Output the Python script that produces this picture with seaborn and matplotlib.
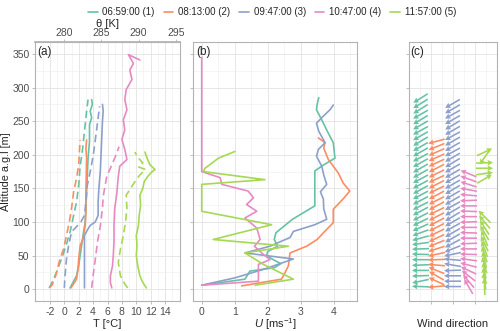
import matplotlib
matplotlib.use("Agg")
import matplotlib.pyplot as plt
import numpy as np
import pandas as pd
import seaborn as sns
from matplotlib.lines import Line2D
from matplotlib.ticker import MultipleLocator, FixedLocator

# Launch times (legend) and Set2 colours
times = ["06:59:00 (1)", "08:13:00 (2)", "09:47:00 (3)", "10:47:00 (4)", "11:57:00 (5)"]
colors = sns.color_palette("Set2", 5)

# (a) temperature profiles: solid = T, dashed = theta (shifted onto the T scale)
t1_alt = [2, 10, 20, 35, 50, 65, 80, 100, 120, 145, 170, 195, 220, 245, 255, 265, 275, 282]
t1_val = [0.8, 1.2, 1.7, 2.0, 2.2, 2.4, 2.6, 2.9, 3.0, 3.1, 3.2, 3.3, 3.5, 3.5, 3.8, 3.6, 3.9, 3.8]
th1_alt = [2, 10, 25, 45, 60, 85, 105, 130, 155, 183, 205, 225, 245, 265, 282]
th1_val = [-2.1, -1.7, -1.1, -0.4, 0.1, 0.8, 1.2, 1.7, 2.0, 2.2, 2.5, 2.7, 2.9, 3.1, 3.3]

t2_alt = [2, 8, 15, 30, 45, 55, 65, 75, 95, 120, 145, 170, 195, 210, 222]
t2_val = [0.9, 1.3, 1.7, 1.9, 2.0, 2.1, 2.2, 2.6, 2.9, 3.0, 3.0, 3.05, 3.1, 3.0, 3.1]
th2_alt = [2, 6, 20, 45, 60, 80, 100, 120, 145, 165, 185, 205, 222]
th2_val = [-2.1, -1.7, -1.2, -0.6, -0.1, 0.3, 0.7, 1.0, 1.3, 1.7, 2.0, 2.1, 2.2]

t3_alt = [2, 30, 60, 80, 88, 95, 100, 110, 130, 150, 175, 200, 225, 250, 265, 275]
t3_val = [2.8, 2.8, 2.8, 2.8, 3.2, 3.6, 4.3, 4.7, 4.7, 4.8, 5.0, 5.1, 5.2, 5.3, 5.4, 5.3]
th3_alt = [2, 20, 45, 65, 85, 92, 100, 110, 130, 155, 180, 205, 230, 255, 272]
th3_val = [0.0, 0.1, 0.3, 0.6, 1.0, 1.6, 2.3, 2.8, 3.0, 3.2, 3.7, 4.1, 4.4, 4.7, 4.9]

t4_alt = [2, 10, 20, 35, 50, 70, 95, 120, 143, 168, 183, 193, 208, 223, 237, 252, 267,
          282, 297, 312, 326, 336, 349, 341]
t4_val = [6.6, 6.4, 6.4, 6.7, 6.8, 6.9, 6.9, 7.0, 7.3, 7.5, 7.7, 8.7, 8.4, 8.0, 8.4, 8.2, 8.7,
          8.4, 8.6, 9.4, 9.1, 9.6, 8.9, 10.5]
th4_alt = [2, 20, 44, 70, 94, 120, 138, 150, 168, 180, 190, 200, 212]
th4_val = [3.8, 4.0, 4.3, 4.6, 5.0, 5.3, 5.4, 5.6, 5.9, 6.4, 6.8, 7.2, 7.6]

t5_alt = [2, 10, 20, 35, 50, 65, 80, 95, 110, 125, 140, 150, 160, 168, 175, 178, 185, 195, 204]
t5_val = [11.4, 10.9, 10.5, 10.2, 10.0, 10.1, 10.0, 10.3, 10.4, 10.6, 10.5, 10.9, 11.1, 11.6,
          12.2, 12.6, 11.9, 11.5, 11.2]
th5_alt = [2, 8, 20, 40, 60, 80, 100, 120, 140, 148, 155, 163, 170, 178, 182, 188, 195, 204]
th5_val = [8.8, 8.4, 7.8, 7.5, 7.8, 8.2, 8.5, 8.7, 8.6, 9.1, 9.5, 10.0, 10.5, 11.3, 10.3, 10.9,
           10.3, 9.8]

# (b) wind speed profiles
u1_alt = [6, 15, 22, 27, 32, 38, 44, 50, 56, 64, 74, 84, 94, 104, 124, 150, 176, 185, 195,
          218, 232, 252, 267, 275, 285]
u1_val = [0, 1.31, 1.4, 1.46, 2.2, 2.4, 2.17, 1.97, 2.0, 2.3, 2.2, 2.25, 2.5, 2.75, 3.43,
          3.43, 3.43, 3.7, 4.04, 3.99, 3.84, 3.64, 3.48, 3.5, 3.55]
u2_alt = [5, 15, 25, 35, 44, 54, 64, 74, 84, 99, 119, 135, 146, 158, 173, 193, 210, 218, 225]
u2_val = [1.21, 2.42, 2.53, 2.63, 2.65, 2.68, 3.18, 3.5, 3.69, 3.99, 3.99, 4.3, 4.49, 4.29,
          4.14, 3.84, 3.7, 3.74, 3.54]
u3_alt = [6, 17, 30, 45, 54, 64, 77, 86, 96, 104, 120, 134, 145, 156, 170, 183, 198, 208,
          218, 235, 247, 258, 267, 274]
u3_val = [0, 1.01, 1.9, 2.78, 1.31, 2.07, 2.68, 2.78, 3.43, 3.79, 3.7, 3.69, 3.6, 3.79, 3.7,
          3.64, 3.48, 3.54, 3.74, 3.55, 3.48, 3.7, 3.89, 3.99]
u4_alt = [6, 12, 20, 30, 37, 44, 54, 64, 74, 91, 106, 116, 126, 136, 146, 156, 166, 175, 345]
u4_val = [0, 1.72, 1.72, 1.72, 1.72, 2.07, 1.82, 1.6, 1.77, 1.67, 1.31, 1.67, 1.36, 1.57,
          1.41, 0.61, 0.56, 0, 0]
u5_alt = [6, 15, 37, 54, 64, 74, 96, 116, 156, 163, 175, 180, 195, 205]
u5_val = [1.62, 2.78, 1.87, 1.31, 2.63, 0.35, 2.12, 0, 0, 1.92, 0.05, 0.1, 0.51, 1.01]

# (c) wind direction (deg, meteorological "from"), 8 m levels
d1_alt = [4, 12, 20, 28, 36, 44, 52, 60, 68, 76, 84, 92, 100, 108, 116, 124, 132, 140, 148,
          156, 164, 172, 180, 188, 196, 204, 212, 220, 228, 236, 244, 252, 260, 268, 276, 284]
d1_val = [92, 78, 88, 90, 88, 90, 92, 88, 82, 75, 70, 66, 64, 63, 62, 63, 62, 62, 61, 62,
          62, 61, 60, 61, 62, 60, 60, 59, 60, 61, 60, 59, 60, 58, 58, 58]
d2_alt = [4, 12, 20, 28, 36, 44, 52, 60, 68, 76, 84, 92, 100, 108, 116, 124, 132, 140, 148,
          156, 164, 172, 180, 188, 196, 204, 212, 220]
d2_val = [85, 115, 120, 112, 95, 88, 78, 72, 68, 65, 64, 63, 62, 63, 64, 62, 63, 62, 64, 63,
          65, 64, 63, 65, 66, 66, 68, 75]
d3_alt = [4, 12, 20, 28, 36, 44, 52, 60, 68, 76, 84, 92, 100, 108, 116, 124, 132, 140, 148,
          156, 164, 172, 180, 188, 196, 204, 212, 220, 228, 236, 244, 252, 260, 268, 276]
d3_val = [90, 90, 90, 88, 100, 95, 78, 68, 62, 60, 60, 61, 60, 59, 60, 61, 60, 60, 59, 60,
          61, 60, 60, 59, 60, 61, 60, 60, 61, 60, 59, 60, 61, 60, 60]
d4_alt = [4, 12, 20, 28, 36, 44, 52, 60, 68, 76, 84, 92, 100, 108, 116, 124, 132, 140, 148,
          156, 164, 172]
d4_val = [150, 140, 128, 115, 105, 98, 92, 90, 88, 90, 92, 90, 88, 90, 92, 90, 88, 95, 100,
          108, 110, 112]
d5_alt = [4, 12, 20, 28, 36, 44, 52, 60, 68, 76, 84, 92, 100, 108, 164, 172, 180, 188, 196, 204]
d5_val = [178, 172, 170, 172, 165, 168, 162, 160, 155, 158, 150, 148, 140, 135, 240, 262,
          270, 268, 35, 245]

temp_series = [(t1_alt, t1_val, th1_alt, th1_val), (t2_alt, t2_val, th2_alt, th2_val),
               (t3_alt, t3_val, th3_alt, th3_val), (t4_alt, t4_val, th4_alt, th4_val),
               (t5_alt, t5_val, th5_alt, th5_val)]
wind_series = [(u1_alt, u1_val), (u2_alt, u2_val), (u3_alt, u3_val), (u4_alt, u4_val),
               (u5_alt, u5_val)]
dir_series = [(d1_alt, d1_val), (d2_alt, d2_val), (d3_alt, d3_val), (d4_alt, d4_val),
              (d5_alt, d5_val)]

rows = []
for name, (ta, tv, ha, hv) in zip(times, temp_series):
    rows += [dict(profile=name, var="T", alt=a, value=v) for a, v in zip(ta, tv)]
    rows += [dict(profile=name, var="theta", alt=a, value=v) for a, v in zip(ha, hv)]
df_a = pd.DataFrame(rows)

rows = []
for name, (ua, uv) in zip(times, wind_series):
    rows += [dict(profile=name, alt=a, U=v) for a, v in zip(ua, uv)]
df_b = pd.DataFrame(rows)

# theme (ggplot theme_light look)
sns.set_theme(style="whitegrid")
plt.rcParams["font.family"] = ["Liberation Sans", "DejaVu Sans"]
plt.rcParams["mathtext.fontset"] = "custom"
plt.rcParams["mathtext.rm"] = "Liberation Sans"
plt.rcParams["mathtext.it"] = "Liberation Sans:italic"
plt.rcParams["axes.unicode_minus"] = False

grey_txt = "#4D4D4D"
grey_line = "#B3B3B3"

fig = plt.figure(figsize=(5, 3.31), dpi=100)
ax_a = fig.add_axes([0.070, 0.0906, 0.290, 0.782])
ax_b = fig.add_axes([0.3866, 0.0906, 0.3268, 0.782])
ax_c = fig.add_axes([0.8186, 0.0906, 0.1748, 0.782])

sns.lineplot(data=df_a, x="value", y="alt", hue="profile", style="var", hue_order=times,
             palette=colors, dashes={"T": "", "theta": (4.5, 2.5)}, sort=False,
             estimator=None, linewidth=1.2, legend=False, ax=ax_a)
sns.lineplot(data=df_b, x="U", y="alt", hue="profile", hue_order=times, palette=colors,
             sort=False, estimator=None, linewidth=1.2, legend=False, ax=ax_b)

# wind direction arrows, one column per launch
for i, (color, (da, dv)) in enumerate(zip(colors, dir_series)):
    ang = np.deg2rad(270 - np.array(dv, dtype=float))
    ax_c.quiver(np.full(len(da), i + 1.0), da, np.cos(ang), np.sin(ang), color=color,
                angles="uv", pivot="middle", scale_units="dots", scale=1 / 17,
                units="dots", width=1.6, headwidth=3.6, headlength=3.4,
                headaxislength=3.0)

for ax in (ax_a, ax_b, ax_c):
    ax.set_ylim(-17.5, 367.5)
    ax.yaxis.set_major_locator(MultipleLocator(50))
    ax.yaxis.set_minor_locator(MultipleLocator(25))
    ax.grid(True, which="major", color="#E3E3E3", linewidth=0.6)
    ax.grid(True, which="minor", color="#EEEEEE", linewidth=0.4)
    ax.set_axisbelow(True)
    for s in ax.spines.values():
        s.set_color(grey_line)
        s.set_linewidth(0.8)
    ax.tick_params(which="major", length=2.5, width=0.6, color=grey_line, labelsize=7.5,
                   labelcolor=grey_txt, pad=1.5, bottom=True, left=True)
    ax.tick_params(which="minor", length=0)
    ax.set_ylabel("")
    ax.xaxis.label.set_va("center")

ax_a.set_xlim(-4.07, 16.07)
ax_a.xaxis.set_major_locator(FixedLocator([-2, 0, 2, 4, 6, 8, 10, 12, 14]))
ax_a.xaxis.set_minor_locator(FixedLocator([-3, -1, 1, 3, 5, 7, 9, 11, 13, 15]))
ax_a.set_xlabel("T [°C]", fontsize=8)
ax_a.set_ylabel("Altitude a.g.l [m]", fontsize=7.8)
ax_a.yaxis.set_label_coords(-0.2, 0.5)
ax_a.yaxis.label.set_va("center")

sec = ax_a.secondary_xaxis("top", functions=(lambda t: 280 + 0.968 * t,
                                             lambda th: (th - 280) / 0.968))
sec.set_xticks([280, 285, 290, 295])
sec.tick_params(length=2.5, width=0.6, color=grey_line, labelsize=7.5,
                labelcolor=grey_txt, pad=0.3)
sec.spines["top"].set_color(grey_line)
sec.set_xlabel("θ [K]", fontsize=8, labelpad=1)

ax_b.set_xlim(-0.255, 4.7)
ax_b.xaxis.set_major_locator(MultipleLocator(1))
ax_b.xaxis.set_minor_locator(MultipleLocator(0.5))
ax_b.set_xlabel(r"$U$ [ms$^{-1}$]", fontsize=8)
ax_b.set_yticklabels([])

ax_c.set_xlim(0.3, 5.76)
ax_c.xaxis.set_major_locator(FixedLocator([1.64, 3.0, 4.39]))
ax_c.xaxis.set_minor_locator(FixedLocator([0.95, 2.32, 3.7, 5.07]))
ax_c.set_xticklabels([])
ax_c.set_yticklabels([])
ax_c.set_xlabel("Wind direction", fontsize=8)

for ax in (ax_a, ax_b, ax_c):
    ax.xaxis.set_label_coords(0.5, -0.09)

for ax, lab in zip((ax_a, ax_b, ax_c), ("(a)", "(b)", "(c)")):
    ax.text(0.015, 0.985, lab, transform=ax.transAxes, ha="left", va="top", fontsize=8.5)

handles = [Line2D([], [], color=c, linewidth=1.2) for c in colors]
fig.legend(handles, times, loc="upper center", ncol=5, bbox_to_anchor=(0.544, 1.005),
           frameon=False, fontsize=7, handlelength=1.0, handletextpad=0.5,
           columnspacing=0.9)

fig.savefig("out.png", dpi=100)
